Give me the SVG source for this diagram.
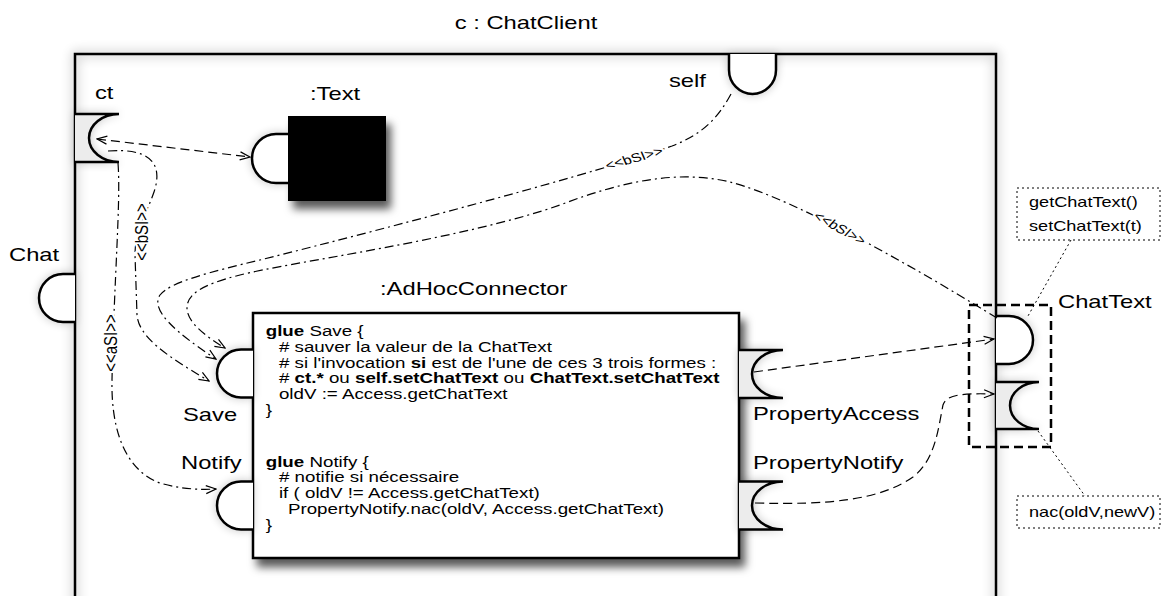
<svg xmlns="http://www.w3.org/2000/svg" width="1171" height="596" viewBox="0 0 1171 596">
<defs>
<style>
text { font-family: "Liberation Sans", Arial, Helvetica, sans-serif; fill: #000; }
.lbl { font-size: 19px; }
.code { font-size: 15px; }
.note { font-size: 14.5px; }
.ster { font-size: 12.5px; stroke: #fff; stroke-width: 4px; paint-order: stroke; stroke-linejoin: round; }
.sterv { font-size: 15px; stroke: #fff; stroke-width: 4px; paint-order: stroke; stroke-linejoin: round; }
.port { fill: #fff; stroke: #000; stroke-width: 2.5; }
.sock { fill: #ececec; stroke: #000; stroke-width: 2.5; }
.dash { fill: none; stroke: #000; stroke-width: 1.2; stroke-dasharray: 9 5; }
.dashdot { fill: none; stroke: #000; stroke-width: 1.2; stroke-dasharray: 9 4 2 4; }
.dot { fill: none; stroke: #000; stroke-width: 1; stroke-dasharray: 2 3; }
</style>
<filter id="blur6" x="-10%" y="-10%" width="120%" height="120%"><feGaussianBlur stdDeviation="6"/></filter>
<filter id="glow" x="-60%" y="-60%" width="220%" height="220%">
  <feGaussianBlur in="SourceAlpha" stdDeviation="5"/>
  <feComponentTransfer><feFuncA type="linear" slope="0.22"/></feComponentTransfer>
  <feMerge><feMergeNode/><feMergeNode in="SourceGraphic"/></feMerge>
</filter>
<filter id="drop" x="-20%" y="-20%" width="150%" height="150%">
  <feDropShadow dx="5" dy="8" stdDeviation="4" flood-color="#000" flood-opacity="0.65"/>
</filter>
<marker id="arr" viewBox="0 0 12 10" refX="11" refY="5" markerWidth="12" markerHeight="10" markerUnits="userSpaceOnUse" orient="auto-start-reverse">
  <path d="M1,1 L11,5 L1,9" fill="none" stroke="#000" stroke-width="1.2"/>
</marker>
</defs>

<rect width="1171" height="596" fill="#fff"/>

<text class="lbl" text-anchor="middle" transform="translate(526 29) scale(1.25 1)">c : ChatClient</text>

<g id="chatclient">
  <rect x="75" y="54" width="921" height="580" fill="#fff"/>
  <rect x="75" y="54" width="921" height="580" fill="none" stroke="#000" stroke-width="4" opacity="0.3" filter="url(#blur6)"/>
  <rect x="75" y="54" width="921" height="580" fill="none" stroke="#000" stroke-width="2.5"/>
</g>

<g id="port-ct">
  <path class="sock" d="M75,114 L119,114 A30 24 0 0 0 119 162 L75 162" filter="url(#glow)"/>
  <text class="lbl" transform="translate(95 99) scale(1.25 1)">ct</text>
</g>

<g id="port-self">
  <path class="port" d="M729,54 L729,70 A23.5 24 0 0 0 776 70 L776,54" filter="url(#glow)"/>
  <text class="lbl" transform="translate(669 87) scale(1.25 1)">self</text>
</g>

<g id="port-chat">
  <path class="port" d="M75,274 L63,274 A24 24 0 0 0 63 322 L75,322" filter="url(#glow)"/>
  <text class="lbl" transform="translate(9 261) scale(1.25 1)">Chat</text>
</g>

<g id="text-part">
  <text class="lbl" transform="translate(310 100) scale(1.25 1)">:Text</text>
  <rect x="288" y="116" width="98" height="85" fill="#000" filter="url(#drop)"/>
  <path class="port" d="M288,134 L276,134 A24 24.5 0 0 0 276 183 L288,183" filter="url(#glow)"/>
</g>

<g id="adhoc">
  <text class="lbl" transform="translate(380 295) scale(1.25 1)">:AdHocConnector</text>
  <rect x="253" y="313" width="486" height="245" fill="#fff" stroke="#000" stroke-width="2.5" filter="url(#drop)"/>
  <g transform="translate(265.7 0) scale(1.25 1)">
    <text class="code" x="0" y="336"><tspan font-weight="bold">glue</tspan> Save {</text>
    <text class="code" x="10.6" y="351.8"># sauver la valeur de la ChatText</text>
    <text class="code" x="10.6" y="367.6"># si l'invocation <tspan font-weight="bold">si</tspan> est de l'une de ces 3 trois formes :</text>
    <text class="code" x="10.6" y="383.4"># <tspan font-weight="bold">ct.*</tspan>  ou <tspan font-weight="bold">self.setChatText</tspan> ou <tspan font-weight="bold">ChatText.setChatText</tspan></text>
    <text class="code" x="10.6" y="399.2">oldV :=  Access.getChatText</text>
    <text class="code" x="0" y="415">}</text>
    <text class="code" x="0" y="466.7"><tspan font-weight="bold">glue</tspan> Notify {</text>
    <text class="code" x="10.6" y="482.5"># notifie si nécessaire</text>
    <text class="code" x="10.6" y="498.3">if ( oldV != Access.getChatText)</text>
    <text class="code" x="17.8" y="514.1">PropertyNotify.nac(oldV, Access.getChatText)</text>
    <text class="code" x="0" y="529.9">}</text>
  </g>
</g>

<g id="port-save">
  <path class="port" d="M253,349.5 L241,349.5 A24 24 0 0 0 241 397.5 L253,397.5" filter="url(#glow)"/>
  <text class="lbl" transform="translate(183 421) scale(1.25 1)">Save</text>
</g>

<g id="port-notify">
  <path class="port" d="M253,481.5 L241,481.5 A24 24 0 0 0 241 529.5 L253,529.5" filter="url(#glow)"/>
  <text class="lbl" transform="translate(181 469) scale(1.25 1)">Notify</text>
</g>

<g id="port-propertyaccess">
  <path class="sock" d="M739,350 L783,350 A31 24 0 0 0 783 398 L739,398" filter="url(#glow)"/>
  <text class="lbl" transform="translate(753 420) scale(1.25 1)">PropertyAccess</text>
</g>

<g id="port-propertynotify">
  <path class="sock" d="M739,481.5 L783,481.5 A31 24 0 0 0 783 529.5 L739,529.5" filter="url(#glow)"/>
  <text class="lbl" transform="translate(753 469) scale(1.25 1)">PropertyNotify</text>
</g>

<g id="port-chattext">
  <path class="port" d="M996,316 L1009,316 A24 24 0 0 1 1009 364 L996,364" filter="url(#glow)"/>
  <path class="sock" d="M996,382 L1039,382 A29 23.5 0 0 0 1039 429 L996,429" filter="url(#glow)"/>
  <rect x="969" y="305" width="82" height="142" fill="none" stroke="#000" stroke-width="2.5" stroke-dasharray="9 5"/>
  <text class="lbl" transform="translate(1058 308) scale(1.25 1)">ChatText</text>
</g>

<g id="note-provided">
  <rect class="dot" x="1017" y="188" width="143" height="52"/>
  <text class="note" transform="translate(1029 207) scale(1.25 1)">getChatText()</text>
  <text class="note" transform="translate(1029 231) scale(1.25 1)">setChatText(t)</text>
</g>

<g id="note-required">
  <rect class="dot" x="1017" y="496" width="143" height="32"/>
  <text class="note" transform="translate(1029 517) scale(1.25 1)">nac(oldV,newV)</text>
</g>

<g id="connectors">
  <path class="dash" d="M97,139 L250,157" marker-start="url(#arr)" marker-end="url(#arr)"/>
  <path class="dashdot" d="M108,151 C148,148 164,162 154,192 C146,215 135,230 135,255 L137,315 C139,337 165,355 209,381" marker-end="url(#arr)"/>
  <path class="dashdot" d="M731,94 C718,118 703,134 672,146 C600,172 400,225 260,260 C210,272 170,282 160,295 C150,310 175,332 216,359" marker-end="url(#arr)"/>
  <path class="dashdot" d="M997,318 C935,280 800,200 730,182 C680,170 625,180 560,205 C460,240 290,262 240,275 C200,285 187,295 187,308 C187,322 205,336 225,348" marker-end="url(#arr)"/>
  <path class="dashdot" d="M118,163 C121,200 114,280 112,380 C111,430 125,470 160,483 C180,489 200,490 216,489" marker-end="url(#arr)"/>
  <path class="dash" d="M754,372 L994,339" marker-end="url(#arr)"/>
  <path class="dash" d="M755,503 C830,505 880,500 913,477 C935,460 938,430 943,405 C946,395 960,393 994,394" marker-end="url(#arr)"/>
  <path class="dot" d="M1071,240 L1028,316"/>
  <path class="dot" d="M1038,431 L1085,496"/>
  <text class="sterv" text-anchor="middle" dominant-baseline="central" transform="translate(142 232) scale(1.25 1) rotate(-90)">&lt;&lt;bSI&gt;&gt;</text>
  <text class="sterv" text-anchor="middle" dominant-baseline="central" transform="translate(111 343) scale(1.25 1) rotate(-90)">&lt;&lt;aSI&gt;&gt;</text>
  <text class="ster" text-anchor="middle" dominant-baseline="central" transform="translate(634 158) scale(1.25 1) rotate(-19)">&lt;&lt;bSI&gt;&gt;</text>
  <text class="ster" text-anchor="middle" dominant-baseline="central" transform="translate(840 228) scale(1.25 1) rotate(35)">&lt;&lt;bSI&gt;&gt;</text>
</g>
</svg>
